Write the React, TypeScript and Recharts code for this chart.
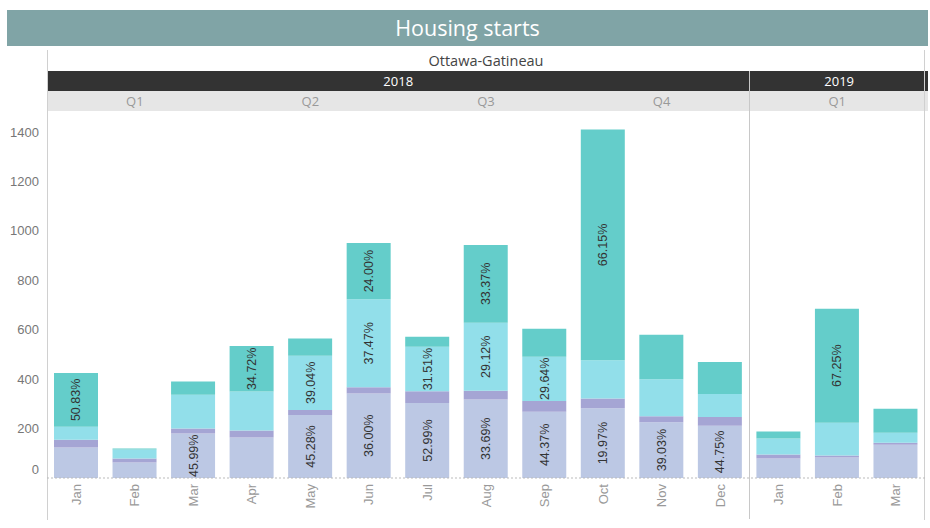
import React from 'react';
import { BarChart, Bar, XAxis, YAxis, ReferenceLine, LabelList } from 'recharts';

const months = ['Jan', 'Feb', 'Mar', 'Apr', 'May', 'Jun', 'Jul', 'Aug', 'Sep', 'Oct', 'Nov', 'Dec', 'Jan', 'Feb', 'Mar'];
const seriesA = [123, 63, 180, 164, 255, 342, 303, 318, 268, 282, 226, 211, 79, 83, 135];
const seriesB = [32, 16, 20, 28, 20, 25, 48, 35, 44, 40, 24, 36, 16, 8, 8];
const seriesC = [52, 36, 137, 158, 220, 356, 180, 275, 179, 154, 150, 93, 65, 133, 40];
const seriesD = [218, 4, 53, 184, 69, 228, 41, 315, 113, 934, 180, 129, 28, 461, 97];
const labelsA = ['', '', '45.99%', '', '45.28%', '36.00%', '52.99%', '33.69%', '44.37%', '19.97%', '39.03%', '44.75%', '', '', ''];
const labelsC = ['', '', '', '', '39.04%', '37.47%', '31.51%', '29.12%', '29.64%', '', '', '', '', '', ''];
const labelsD = ['50.83%', '', '', '34.72%', '', '24.00%', '', '33.37%', '', '66.15%', '', '', '', '67.25%', ''];
const yTicks = [0, 200, 400, 600, 800, 1000, 1200, 1400];
const years = ['2018', '2019'];
const quarters = ['Q1', 'Q2', 'Q3', 'Q4', 'Q1'];

const data = months.map((m, i) => ({
  key: i,
  month: m,
  a: seriesA[i],
  b: seriesB[i],
  c: seriesC[i],
  d: seriesD[i],
  la: labelsA[i],
  lc: labelsC[i],
  ld: labelsD[i],
}));

const FONT = '"Liberation Sans", Arial, sans-serif';
const HFONT = '"Open Sans", "Liberation Sans", sans-serif';

const SegLabel = (props: any) => {
  const { x, y, width, height, value } = props;
  if (!value) return null;
  const cx = Number(x) + Number(width) / 2;
  const cy = Number(y) + Number(height) / 2;
  return (
    <text
      x={cx}
      y={cy}
      dy={4.5}
      textAnchor="middle"
      transform={`rotate(-90, ${cx}, ${cy})`}
      fontSize={12.5}
      fontFamily={FONT}
      fill="#333"
    >
      {value}
    </text>
  );
};

const YTick = (props: any) => {
  const { y, payload } = props;
  const v = payload.value;
  return (
    <text x={39} y={Number(y) + (v === 0 ? -9 : 0)} dy={4.5} textAnchor="end" fontSize={13} fontFamily={FONT} fill="#777">
      {v}
    </text>
  );
};

const XTick = (props: any) => {
  const { x, payload } = props;
  const ax = Number(x);
  const ay = 6 + 367;
  return (
    <text
      x={ax}
      y={ay}
      dy={4.5}
      textAnchor="end"
      transform={`rotate(-90, ${ax}, ${ay})`}
      fontSize={13}
      fontFamily={FONT}
      fill="#999"
    >
      {months[payload.value]}
    </text>
  );
};

export default function App() {
  const plotLeft = 47;
  const plotRight = 925;
  const band = (plotRight - plotLeft) / 15;
  const sepX = plotLeft + band * 12;
  const qCenters = [0, 1, 2, 3].map((q) => plotLeft + band * (q * 3 + 1.5)).concat([plotLeft + band * 13.5]);
  return (
    <div style={{ position: 'absolute', left: 0, top: 0, width: 930, height: 528, background: '#fff', overflow: 'hidden' }}>
      <div
        style={{
          position: 'absolute', left: 7, top: 10, width: 921, height: 36, background: '#80a4a6',
          color: '#fff', fontFamily: HFONT, fontSize: 21.5, lineHeight: '36px', textAlign: 'center',
        }}
      >
        Housing starts
      </div>
      <div style={{ position: 'absolute', left: plotLeft, top: 51, width: plotRight - plotLeft, height: 20, fontFamily: HFONT, fontSize: 14.5, color: '#444', textAlign: 'center', lineHeight: '20px' }}>
        Ottawa-Gatineau
      </div>
      <div style={{ position: 'absolute', left: plotLeft, top: 71, width: sepX - plotLeft, height: 20, background: '#333', color: '#fff', fontFamily: HFONT, fontSize: 13, textAlign: 'center', lineHeight: '20px' }}>
        {years[0]}
      </div>
      <div style={{ position: 'absolute', left: sepX + 1, top: 71, width: 928 - sepX - 1, height: 20, background: '#333', color: '#fff', fontFamily: HFONT, fontSize: 13, textAlign: 'center', lineHeight: '20px' }}>
        {years[1]}
      </div>
      <div style={{ position: 'absolute', left: plotLeft, top: 91, width: 928 - plotLeft, height: 20, background: '#e6e6e6' }} />
      {quarters.map((q, i) => (
        <div key={i} style={{ position: 'absolute', left: qCenters[i] - 40, top: 91, width: 80, height: 20, fontFamily: HFONT, fontSize: 13, color: '#999', textAlign: 'center', lineHeight: '20px' }}>
          {q}
        </div>
      ))}
      <div style={{ position: 'absolute', left: plotLeft, top: 50, width: 1, height: 470, background: '#d0d0d0' }} />
      <div style={{ position: 'absolute', left: sepX, top: 71, width: 1, height: 448, background: '#c8c8c8' }} />
      <div style={{ position: 'absolute', left: plotRight - 1, top: 50, width: 1, height: 470, background: '#d0d0d0' }} />
      <div style={{ position: 'absolute', left: 0, top: 111 }}>
        <BarChart
          width={930}
          height={417}
          data={data}
          margin={{ top: 0, right: 930 - plotRight, bottom: 0, left: 0 }}
          barSize={44}
        >
          <XAxis dataKey="key" interval={0} tickLine={false} axisLine={false} height={50} tick={<XTick />} />
          <YAxis domain={[0, 1485]} ticks={yTicks} width={plotLeft} tickLine={false} axisLine={false} tick={<YTick />} allowDataOverflow />
          <Bar dataKey="a" stackId="s" fill="#bcc8e4" isAnimationActive={false}>
            <LabelList dataKey="la" content={<SegLabel />} />
          </Bar>
          <Bar dataKey="b" stackId="s" fill="#a5a5d4" isAnimationActive={false} />
          <Bar dataKey="c" stackId="s" fill="#92dfea" isAnimationActive={false}>
            <LabelList dataKey="lc" content={<SegLabel />} />
          </Bar>
          <Bar dataKey="d" stackId="s" fill="#64cdca" isAnimationActive={false}>
            <LabelList dataKey="ld" content={<SegLabel />} />
          </Bar>
          <ReferenceLine y={0} stroke="#bbb" strokeDasharray="2 2" />
        </BarChart>
      </div>
    </div>
  );
}
